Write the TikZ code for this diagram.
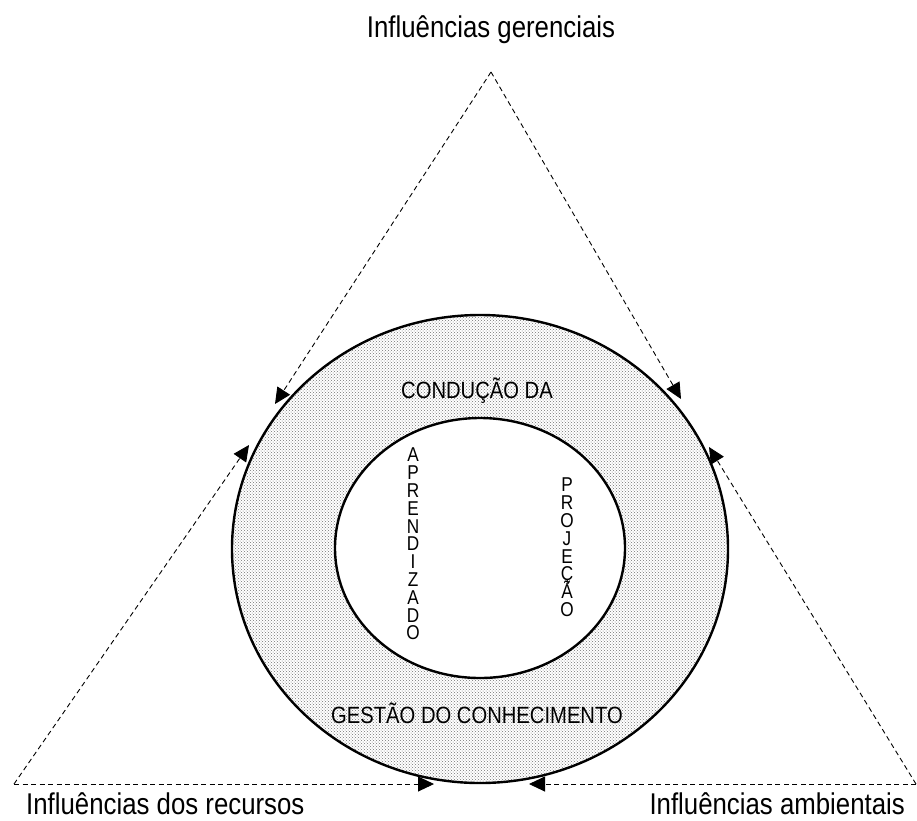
\documentclass[tikz,border=0pt]{standalone}
\usepackage{fontspec}
\setmainfont{Liberation Sans}[FakeStretch=0.86]
\usetikzlibrary{arrows.meta,shapes.geometric,patterns}

% letters stacked at a fixed pitch, accents allowed to crowd the line above
\newcommand\stackedletters{\fontsize{20}{17.8}\selectfont
  \lineskiplimit=-100pt\relax\lineskip=0pt\relax}

\tikzset{
  ring/.style={ellipse, draw, line width=2.4pt, inner sep=0pt},
  influence/.style={dashed, dash pattern=on 5pt off 3.5pt, line width=0.9pt,
    -{Triangle[length=16pt,width=15pt]}},
  side/.style={font=\fontsize{30}{34}\selectfont, inner sep=0pt},
  band/.style={font=\fontsize{23.5}{26}\selectfont, inner sep=0pt, anchor=base},
  column/.style={align=center, inner sep=0pt, anchor=north, font=\stackedletters}
}

\begin{document}
\begin{tikzpicture}[x=1pt,y=-1pt]
  \useasboundingbox (0,0) rectangle (917,820);

  % triangle corners and the points where the influences reach the ring
  \coordinate (apex) at (491,72);
  \coordinate (bl)   at (14,784);
  \coordinate (br)   at (916,784);
  \coordinate (t1) at (275,404);
  \coordinate (t2) at (249,445);
  \coordinate (t3) at (681,399);
  \coordinate (t4) at (709,447);
  \coordinate (t5) at (434,784);
  \coordinate (t6) at (529,784);

  % knowledge-management ring
  \node[ring, pattern=crosshatch dots, pattern color=black!55,
        minimum width=496pt, minimum height=468pt] (outer) at (480,549) {};
  \node[ring, fill=white, minimum width=290pt, minimum height=260pt] (inner) at (480,548) {};

  % influences along the triangle sides
  \draw[influence] (apex) -- (t1);
  \draw[influence] (apex) -- (t3);
  \draw[influence] (bl) -- (t2);
  \draw[influence] (bl) -- (t5);
  \draw[influence] (br) -- (t4);
  \draw[influence] (br) -- (t6);

  % corner labels
  \node[side, anchor=base] (lg) at (491,37) {Influências gerenciais};
  \node[side, anchor=base west] (lr) at (26,814) {Influências dos recursos};
  \node[side, anchor=base east] (la) at (905,814) {Influências ambientais};

  % ring labels
  \node[band] (cond) at (477,398) {CONDUÇÃO DA};
  \node[band] (gest) at (477,723) {GESTÃO DO CONHECIMENTO};

  % vertical words in the inner circle
  \node[column] (apr) at (413,448)
    {A\\P\\R\\E\\N\\D\\I\\Z\\A\\D\\O};
  \node[column] (proj) at (567,478)
    {P\\R\\O\\J\\E\\Ç\\Ã\\O};
\end{tikzpicture}
\end{document}
